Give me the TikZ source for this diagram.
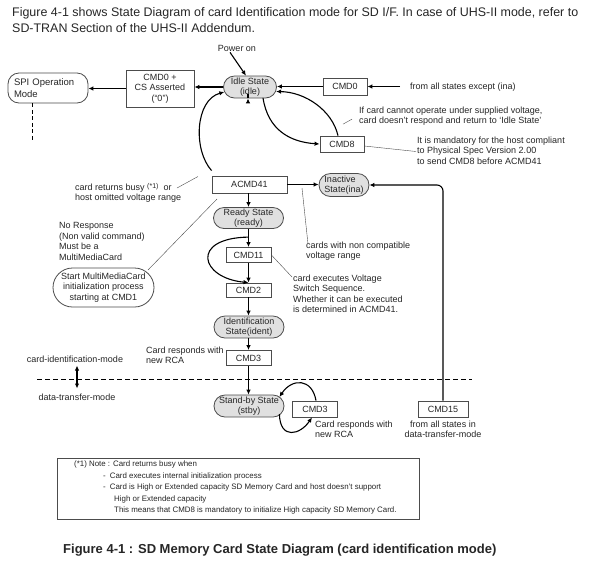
\documentclass[tikz,border=0pt]{standalone}
\usepackage{fontspec}
\setmainfont{Liberation Sans}
\usetikzlibrary{arrows.meta,shapes.misc,calc}
\begin{document}
\begin{tikzpicture}[x=1pt,y=-1pt,
  every node/.style={font=\fontsize{9}{10.5}\selectfont, text=black!85},
  conn/.style={line width=1.1pt, -{Latex[length=5pt,width=4.5pt]}},
  ann/.style={line width=0.4pt, draw=black!70},
  st/.style={rounded rectangle, draw=black!70, fill=black!12, line width=0.8pt, inner sep=0pt, align=center, font=\fontsize{9}{10}\selectfont},
  cmd/.style={rectangle, draw=black!70, fill=white, line width=0.8pt, inner sep=0pt, align=center},
  txt/.style={align=left, inner sep=0pt, anchor=north west}]
\useasboundingbox[fill=white] (0,0) rectangle (594,566);

% header
\node[anchor=base west, inner sep=0pt, font=\fontsize{12.45}{14}\selectfont] (h1) at (12,16) {Figure 4-1 shows State Diagram of card Identification mode for SD I/F. In case of UHS-II mode, refer to};
\node[anchor=base west, inner sep=0pt, font=\fontsize{12.45}{14}\selectfont] (h2) at (12,32) {SD-TRAN Section of the UHS-II Addendum.};

% nodes
\node[inner sep=0pt] (pwr) at (237,48) {Power on};
\node[st, minimum width=53pt, minimum height=22pt] (idle) at (250,87) {Idle State\\(idle)};
\node[draw=black!70, rounded corners=11pt, line width=0.8pt, minimum width=80pt, minimum height=30pt, inner sep=0pt, align=left, text width=68pt, font=\fontsize{9.5}{11.5}\selectfont] (spi) at (48,88) {SPI Operation\\Mode};
\node[cmd, minimum width=68pt, minimum height=37pt] (cs) at (160,88.5) {CMD0 +\\CS Asserted\\(``0'')};
\node[cmd, minimum width=44pt, minimum height=17pt] (cmd0) at (345,86.5) {CMD0};
\coordinate (fromall) at (400,86.5);
\node[anchor=west, inner sep=0pt] (fromallt) at (410,87) {from all states except (ina)};
\node[cmd, minimum width=44pt, minimum height=16pt] (cmd8) at (342,144) {CMD8};
\node[cmd, minimum width=75pt, minimum height=17pt] (acmd41) at (249.5,184.5) {ACMD41};
\node[st, minimum width=50pt, minimum height=23pt, align=left] (ina) at (344,185) {Inactive\\State(ina)};
\node[st, minimum width=70pt, minimum height=21pt] (ready) at (248.5,218) {Ready State\\(ready)};
\node[cmd, minimum width=45pt, minimum height=15pt] (cmd11) at (248.5,255) {CMD11};
\node[cmd, minimum width=45pt, minimum height=14pt] (cmd2) at (248.5,290) {CMD2};
\node[st, minimum width=70pt, minimum height=22pt] (ident) at (249,327) {Identification\\State(ident)};
\node[cmd, minimum width=45pt, minimum height=15pt] (cmd3a) at (248.5,358) {CMD3};
\node[st, minimum width=70pt, minimum height=22pt] (stby) at (249,406) {Stand-by State\\(stby)};
\node[cmd, minimum width=45pt, minimum height=16pt] (cmd3b) at (315,409) {CMD3};
\node[cmd, minimum width=50pt, minimum height=16pt] (cmd15) at (443,409) {CMD15};
\node[rounded rectangle, draw=black!70, line width=0.8pt, minimum width=101pt, minimum height=39pt, inner sep=0pt, align=center, font=\fontsize{9}{10.5}\selectfont] (mmc) at (103.5,287.5) {Start MultiMediaCard\\initialization process\\starting at CMD1};

% annotations
\node[txt] (t8a) at (359,106.5) {If card cannot operate under supplied voltage,\\card doesn't respond and return to `Idle State'};
\node[txt] (t8b) at (417,136.5) {It is mandatory for the host compliant\\to Physical Spec Version 2.00\\to send CMD8 before ACMD41};
\node[txt] (tbusy) at (75,183.5) {card returns busy {\fontsize{7}{7}\selectfont\raisebox{1.5pt}{(*1)}}\ \ or\\host omitted voltage range};
\node[txt] (tnr) at (59,222.5) {No Response\\(Non valid command)\\Must be a\\MultiMediaCard};
\node[txt] (tnc) at (306,241.5) {cards with non compatible\\voltage range};
\node[txt] (tvs) at (293,274.5) {card executes Voltage\\Switch Sequence.\\Whether it can be executed\\is determined in ACMD41.};
\node[txt] (trca1) at (146,346.5) {Card responds with\\new RCA};
\node[txt] (trca2) at (315,420.5) {Card responds with\\new RCA};
\node[align=center, inner sep=0pt, anchor=north] (tall) at (443,420.5) {from all states in\\data-transfer-mode};
\node[inner sep=0pt] (tcim) at (75,359) {card-identification-mode};
\node[inner sep=0pt] (tdtm) at (77,397) {data-transfer-mode};

% connectors
\draw[conn] ($(pwr.south)+(-7,1)$) -- ($(idle.north)+(-4,0)$);
\draw[conn] (idle.west) -- (idle.west -| cs.east);
\draw[conn] (cs.west) -- (cs.west -| spi.east);
\draw[conn] (cmd0.west) -- (cmd0.west -| idle.east);
\draw[conn] (fromall) -- (cmd0.east);
\draw[conn] ($(idle.south)+(-2,0)$) -- ($(idle.south)+(-2,0)$ |- acmd41.north);
\draw[conn] ($(acmd41.north west)+(0,-5)$) .. controls (193,150) and (195,100) .. ($(idle.west)+(1.2,5)$);
\draw[conn] ($(idle.south)+(13,-0.5)$) .. controls (268,130) and (290,142) .. (cmd8.west);
\draw[conn] ($(cmd8.north)+(-4,0)$) .. controls (332,110) and (305,92) .. ($(idle.east)+(-0.8,4.5)$);
\draw[ann] ($(t8a.west)+(-7,3)$) -- ($(t8a.west)+(-16,8)$);
\draw[ann] ($(cmd8.east)+(0,2)$) -- (416,151.5);
\draw[conn] (acmd41.east) -- (acmd41.east -| ina.west);
\draw[conn] (acmd41.south -| ready.north) -- (ready.north);
\draw[conn] (ready.south) -- (cmd11.north);
\draw[conn] (cmd11.south) -- (cmd2.north);
\coordinate (bp) at ($(ready.south)!0.45!(cmd11.north)$);
\draw[conn] (bp) .. controls (190,238) and (200,278) .. (cmd2.north);
\draw[ann] (cmd11.east) -- (292,277);
\draw[ann] (302,188) -- (308,244);
\draw[ann] (177,188) -- (198,176.5);
\draw[ann] (217,199) -- (148,270);
\draw[conn] (cmd2.south) -- (cmd2.south |- ident.north);
\draw[conn] (ident.south -| cmd3a.north) -- (cmd3a.north);
\draw[conn] (cmd3a.south) -- (cmd3a.south |- stby.north);
\draw[conn] ($(stby.east)+(-5,8)$) .. controls (280,440) and (300,435) .. ($(cmd3b.south)+(-3,0)$);
\draw[conn] ($(cmd3b.north)+(1,0)$) .. controls (312,378) and (292,378) .. ($(stby.east)+(-5,-9)$);
\draw[conn, rounded corners=6pt] (cmd15.north) -- (cmd15.north |- ina.east) -- (ina.east);

% mode separator
\draw[line width=0.9pt, dash pattern=on 5pt off 3pt] (37,379) -- (472,379);
\draw[line width=1.1pt, {Latex[length=5pt,width=4.5pt]}-{Latex[length=5pt,width=4.5pt]}] ($(tcim.south)+(2,3)$) -- ($(tdtm.north)+(0,-5)$);
\draw[line width=0.9pt, dash pattern=on 4pt off 2.5pt] (spi.south -| 32,0) -- (32,142);

% note
\node[draw=black!70, line width=0.8pt, minimum width=362pt, minimum height=61pt, inner sep=0pt] (note) at (238,488.5) {};
\node[txt, font=\fontsize{7.9}{11.4}\selectfont] (notet) at (74,461) {(*1) Note : Card returns busy when\\
\hspace*{29pt}-\hspace{4pt}Card executes internal initialization process\\
\hspace*{29pt}-\hspace{4pt}Card is High or Extended capacity SD Memory Card and host doesn't support\\
\hspace*{40pt}High or Extended capacity\\
\hspace*{40pt}This means that CMD8 is mandatory to initialize High capacity SD Memory Card.};

% caption
\node[anchor=base west, inner sep=0pt, font=\fontsize{13}{15}\bfseries\selectfont] (cap) at (63,553) {Figure 4-1 : SD Memory Card State Diagram (card identification mode)};
\end{tikzpicture}
\end{document}
